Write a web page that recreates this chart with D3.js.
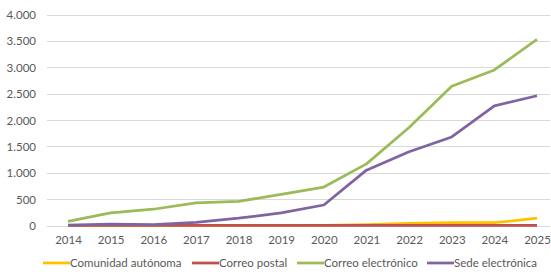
<!DOCTYPE html>
<html>
<head>
<meta charset="utf-8">
<script src="https://cdn.jsdelivr.net/npm/d3@7"></script>
<style>
  body { margin: 0; background: #fff; }
  svg text { font-family: Lato, "Open Sans", sans-serif; fill: #595959; }
</style>
</head>
<body>
<svg id="chart"></svg>
<script>
// data
const years = ["2014", "2015", "2016", "2017", "2018", "2019", "2020", "2021", "2022", "2023", "2024", "2025"];
const comunidadAutonoma = [0, 0, 0, 0, 0, 0, 5, 20, 40, 55, 55, 140];
const correoPostal = [2, 2, 2, 2, 2, 2, 2, 3, 3, 3, 3, 3];
const correoElectronico = [80, 240, 310, 430, 460, 590, 730, 1170, 1860, 2640, 2950, 3530];
const sedeElectronica = [10, 30, 20, 60, 140, 240, 390, 1050, 1400, 1680, 2270, 2460];
const yTicks = [0, 500, 1000, 1500, 2000, 2500, 3000, 3500, 4000];

const series = [
    { name: "Comunidad autónoma", values: comunidadAutonoma, color: "#FFC000" },
    { name: "Correo postal", values: correoPostal, color: "#C0504D" },
    { name: "Correo electrónico", values: correoElectronico, color: "#9BBB59" },
    { name: "Sede electrónica", values: sedeElectronica, color: "#8064A2" }
];

const width = 551, height = 274;
const svg = d3.select("#chart").attr("width", width).attr("height", height);

const gridLeft = 47, gridRight = 550;

const x = d3.scalePoint()
    .domain(years)
    .range([68, 537]);

const y = d3.scaleLinear()
    .domain([0, 4000])
    .range([225.6, 14.5]);

// gridlines
svg.append("g")
    .selectAll("line")
    .data(yTicks)
    .join("line")
    .attr("x1", gridLeft)
    .attr("x2", gridRight)
    .attr("y1", d => Math.round(y(d)) + 0.5)
    .attr("y2", d => Math.round(y(d)) + 0.5)
    .attr("stroke", "#d9d9d9")
    .attr("stroke-width", 1);

// y axis labels
const fmt = d3.format(",");
const yAxis = d3.axisLeft(y)
    .tickValues(yTicks)
    .tickSize(0)
    .tickPadding(0)
    .tickFormat(d => fmt(d).replace(/,/g, "."));

const yAxisG = svg.append("g")
    .attr("transform", "translate(36,0)")
    .call(yAxis);
yAxisG.select(".domain").remove();
yAxisG.selectAll("text")
    .attr("font-size", 11.5)
    .attr("dy", "0.35em")
    .style("font-family", "Lato, sans-serif")
    .attr("fill", "#595959");

// x axis labels
const xAxis = d3.axisBottom(x)
    .tickSize(0)
    .tickPadding(0);

const xAxisG = svg.append("g")
    .attr("transform", "translate(0,236)")
    .call(xAxis);
xAxisG.select(".domain").remove();
xAxisG.selectAll("text")
    .attr("font-size", 11.5)
    .attr("dy", "0.71em")
    .style("font-family", "Lato, sans-serif")
    .attr("fill", "#595959");

// lines
const line = d3.line()
    .x((d, i) => x(years[i]))
    .y(d => y(d));

svg.append("g")
    .selectAll("path")
    .data(series)
    .join("path")
    .attr("fill", "none")
    .attr("stroke", d => d.color)
    .attr("stroke-width", 2.75)
    .attr("stroke-linejoin", "round")
    .attr("d", d => line(d.values));

const legendX = [43, 192, 297, 427];
const legend = svg.append("g")
    .selectAll("g")
    .data(series)
    .join("g")
    .attr("transform", (d, i) => `translate(${legendX[i]},263)`);

legend.append("line")
    .attr("x1", 0)
    .attr("x2", 27)
    .attr("stroke", d => d.color)
    .attr("stroke-width", 2.75);

legend.append("text")
    .attr("x", 27)
    .attr("dy", "0.35em")
    .attr("font-size", 11.5)
    .text(d => d.name);
</script>
</body>
</html>
